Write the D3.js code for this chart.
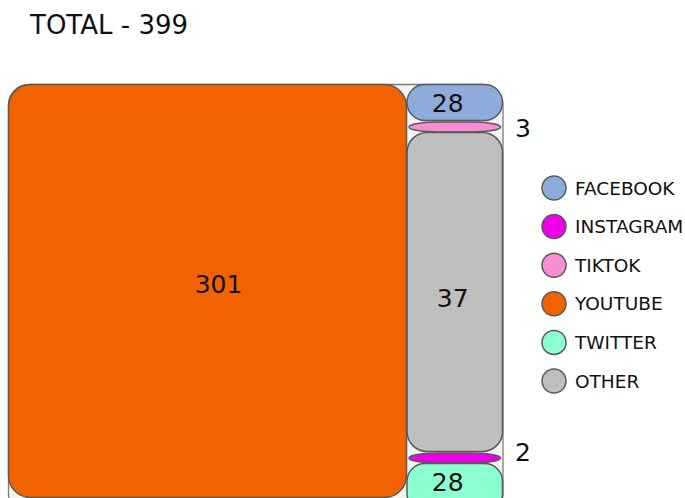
<!DOCTYPE html>
<html>
<head>
<meta charset="utf-8">
<script src="https://cdn.jsdelivr.net/npm/d3@7"></script>
<style>
  body { margin: 0; background: #fff; }
  svg text { font-family: "DejaVu Sans", sans-serif; fill: #111; }
</style>
</head>
<body>
<div id="chart"></div>
<script>
// Social media mentions, drawn as a rounded tile block with a legend

const platforms = ["FACEBOOK", "INSTAGRAM", "TIKTOK", "YOUTUBE", "TWITTER", "OTHER"]
const counts = [28, 2, 3, 301, 28, 37]
// top-to-bottom order of the small tiles beside the big one
const columnOrder = ["FACEBOOK", "TIKTOK", "OTHER", "INSTAGRAM", "TWITTER"]

const WIDTH = 685
const HEIGHT = 498
const STROKE = "#5a5a5a"

const color = d3.scaleOrdinal()
  .domain(platforms)
  .range(["#8eabdc", "#ee00e8", "#f78ed2", "#f26300", "#8cffd0", "#bebebe"])

const value = new Map(platforms.map((p, i) => [p, counts[i]]))
const total = d3.sum(counts)
const biggest = platforms[d3.maxIndex(counts)]

const svg = d3.select("#chart")
  .append("svg")
  .attr("width", WIDTH)
  .attr("height", HEIGHT)

svg.append("text")
  .attr("x", 30)
  .attr("y", 34)
  .style("font-size", "26px")
  .text(`TOTAL - ${total}`)

// outer frame
const frame = { x0: 8.5, x1: 503, y0: 84.5, y1: 514 }
const splitX = 406.5

svg.append("rect")
  .attr("x", frame.x0).attr("y", frame.y0)
  .attr("width", frame.x1 - frame.x0).attr("height", frame.y1 - frame.y0)
  .attr("rx", 20)
  .attr("fill", "#f3f3f3")
  .attr("stroke", "#7a7a7a")
  .attr("stroke-width", 1.3)

// big tile
svg.append("rect")
  .attr("x", frame.x0).attr("y", frame.y0)
  .attr("width", splitX - frame.x0).attr("height", 497.5 - frame.y0)
  .attr("rx", 22)
  .attr("fill", color(biggest))
  .attr("stroke", STROKE)
  .attr("stroke-width", 1.5)

svg.append("text")
  .attr("x", (frame.x0 + splitX) / 2 + 11)
  .attr("y", 284)
  .attr("text-anchor", "middle")
  .attr("dominant-baseline", "central")
  .style("font-size", "25px")
  .text(value.get(biggest))

// column tiles: tiny values become slivers, OTHER takes the slack
const kind = p => p === "OTHER" ? "fill" : value.get(p) < 5 ? "sliver" : "pill"
const slotSize = { pill: 37, sliver: 11 }
const fixed = d3.sum(columnOrder, p => kind(p) === "fill" ? 0 : slotSize[kind(p)])
const colHeight = 416
let acc = 0
const slots = columnOrder.map(p => {
  const k = kind(p)
  const h = k === "fill" ? colHeight - fixed : slotSize[k]
  const s = { p, k, a: acc, b: acc + h }
  acc += h
  return s
})
// the last pill runs past the bottom of the frame
slots[slots.length - 1].b += 12
const y = d3.scaleLinear().domain([0, colHeight]).range([frame.y0, frame.y0 + colHeight])
const x = d3.scaleLinear().domain([0, 1]).range([splitX + 0.5, frame.x1 - 0.5])

const col = svg.append("g")
col.selectAll("rect")
  .data(slots)
  .join("rect")
    .attr("x", d => d.k === "sliver" ? x(0.02) : x(0))
    .attr("y", d => d.k === "sliver" ? y(d.a) + 0.5 : y(d.a))
    .attr("width", d => d.k === "sliver" ? x(0.98) - x(0.02) : x(1) - x(0))
    .attr("height", d => d.k === "sliver" ? y(d.b) - y(d.a) - 1 : y(d.b) - y(d.a) - 1)
    .attr("rx", d => d.k === "sliver" ? 30 : d.k === "pill" ? 18 : 20)
    .attr("ry", d => d.k === "sliver" ? 5 : d.k === "pill" ? 18 : 20)
    .attr("fill", d => color(d.p))
    .attr("stroke", STROKE)
    .attr("stroke-width", 1.5)

col.selectAll("text")
  .data(slots)
  .join("text")
    .attr("x", d => d.k === "sliver" ? 515 : (x(0) + x(1)) / 2 - (d.k === "pill" ? 7 : 2))
    .attr("y", d => d.k === "pill" ? y(d.a) + 19 : (y(d.a) + y(d.b)) / 2)
    .attr("dy", d => d.k === "sliver" ? (d.p === "TIKTOK" ? 1 : -6) : d.k === "fill" ? 6 : 0)
    .attr("text-anchor", d => d.k === "sliver" ? "start" : "middle")
    .attr("dominant-baseline", "central")
    .style("font-size", "25px")
    .text(d => value.get(d.p))

// legend
const ly = d3.scalePoint().domain(platforms).range([188, 381])
const legend = svg.append("g")
  .selectAll("g")
  .data(platforms)
  .join("g")
    .attr("transform", p => `translate(554,${ly(p)})`)

legend.append("circle")
  .attr("r", 12)
  .attr("fill", p => color(p))
  .attr("stroke", STROKE)
  .attr("stroke-width", 1.5)

legend.append("text")
  .attr("x", 21)
  .attr("dominant-baseline", "central")
  .style("font-size", "18.5px")
  .text(p => p)
</script>
</body>
</html>
